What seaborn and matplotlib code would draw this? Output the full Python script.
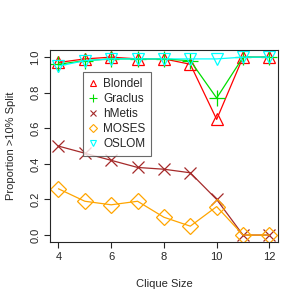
import matplotlib
matplotlib.use("Agg")
import matplotlib.pyplot as plt
from matplotlib.lines import Line2D
import pandas as pd
import seaborn as sns

sns.set_style("ticks")
plt.rcParams['font.family'] = ['Liberation Sans', 'DejaVu Sans']

# data
clique_size = [4, 5, 6, 7, 8, 9, 10, 11, 12]
blondel = [0.97, 0.99, 1.0, 0.99, 0.99, 0.96, 0.65, 1.0, 1.0]
graclus = [0.96, 0.98, 0.99, 0.99, 0.99, 0.98, 0.77, 1.0, 1.0]
hmetis = [0.50, 0.46, 0.42, 0.38, 0.37, 0.35, 0.20, 0.0, 0.0]
moses = [0.26, 0.19, 0.17, 0.19, 0.10, 0.05, 0.16, 0.0, 0.0]
oslom = [0.95, 0.98, 0.99, 0.99, 0.99, 0.99, 0.99, 1.0, 1.0]

methods = ['Blondel', 'Graclus', 'hMetis', 'MOSES', 'OSLOM']
series = [blondel, graclus, hmetis, moses, oslom]
colors = ['#FF0000', '#00DD00', '#A52A2A', '#FFA500', '#00FFFF']
markers = ['^', '+', 'x', 'D', 'v']
msizes = [9, 11, 9, 8, 9]

fig = plt.figure(figsize=(3.05, 3.05), dpi=100)
ax = fig.add_axes([0.164, 0.206, 0.747, 0.630])

for name, vals, c, m, ms in zip(methods, series, colors, markers, msizes):
    df = pd.DataFrame({'x': clique_size, 'y': vals})
    sns.lineplot(data=df, x='x', y='y', ax=ax, color=c, marker=m,
                 markersize=ms, markerfacecolor='none', markeredgecolor=c,
                 markeredgewidth=0.9, linewidth=0.9)

ax.set_xlim(3.68, 12.32)
ax.set_ylim(-0.04, 1.04)
ax.set_xticks([4, 6, 8, 10, 12])
ax.set_yticks([0.0, 0.2, 0.4, 0.6, 0.8, 1.0])
ax.set_yticklabels(['0.0', '0.2', '0.4', '0.6', '0.8', '1.0'], rotation=90, va='center')
ax.tick_params(labelsize=8, length=4, width=0.8, pad=3)
for s in ax.spines.values():
    s.set_visible(True)
    s.set_linewidth(0.8)
ax.set_xlabel('Clique Size', fontsize=8, labelpad=12)
ax.set_ylabel('Proportion >10% Split', fontsize=8, labelpad=10)

sizes_leg = [4.5, 6, 4.5, 4.5, 4.5]
handles = [Line2D([], [], linestyle='none', marker=m, color=c,
                  markerfacecolor='none', markersize=s, markeredgewidth=0.8)
           for c, m, s in zip(colors, markers, sizes_leg)]
leg = ax.legend(handles, methods, loc='upper left', bbox_to_anchor=(0.145, 0.886),
                fontsize=8.5, frameon=True, fancybox=False, handlelength=0.7,
                handletextpad=0.5, labelspacing=0.25, borderpad=0.5,
                borderaxespad=0)
leg.get_frame().set_edgecolor('#444444')
leg.get_frame().set_linewidth(0.8)

fig.savefig('out.png', dpi=100)
